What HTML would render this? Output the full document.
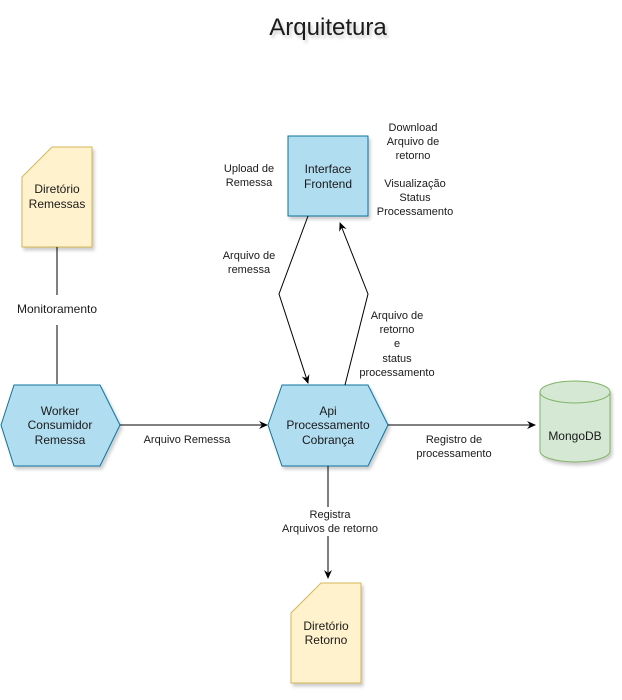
<!DOCTYPE html>
<html><head><meta charset="utf-8"><style>
body{margin:0;background:#fff}
svg text{font-family:"Liberation Sans",Arial,sans-serif;fill:#1a1a1a}
</style></head><body>
<svg width="622" height="695" viewBox="0 0 622 695" xmlns="http://www.w3.org/2000/svg">
<defs>
<marker id="a" markerWidth="10" markerHeight="10" refX="8" refY="5" orient="auto" markerUnits="userSpaceOnUse">
<path d="M0,1 L9,5 L0,9 L3,5 Z" fill="#000"/></marker>
<filter id="s" x="-20%" y="-20%" width="150%" height="150%"><feDropShadow dx="2" dy="3" stdDeviation="1.5" flood-color="#000" flood-opacity="0.2"/></filter>
</defs>
<text x="328" y="35" font-size="24" text-anchor="middle" filter="url(#s)">Arquitetura</text>

<!-- Diretorio Remessas -->
<path d="M52,147 L92,147 L92,247 L22,247 L22,177 Z" fill="#fff2cc" stroke="#d6b656" filter="url(#s)"/>
<text x="57" y="193" font-size="12" text-anchor="middle">Diretório</text>
<text x="57" y="208" font-size="12" text-anchor="middle">Remessas</text>
<line x1="57" y1="247" x2="57" y2="295" stroke="#000"/>
<text x="57" y="313" font-size="12" text-anchor="middle">Monitoramento</text>
<line x1="57" y1="325" x2="57" y2="384" stroke="#000"/>

<!-- Worker -->
<path d="M1,425 L14,385 L100,385 L120,425 L100,466 L14,466 Z" fill="#b1ddf0" stroke="#10739e" filter="url(#s)"/>
<text x="60" y="415" font-size="12" text-anchor="middle">Worker</text>
<text x="60" y="429" font-size="12" text-anchor="middle">Consumidor</text>
<text x="60" y="444" font-size="12" text-anchor="middle">Remessa</text>
<line x1="120" y1="425" x2="267" y2="425" stroke="#000" marker-end="url(#a)"/>
<text x="187" y="443" font-size="11" text-anchor="middle">Arquivo Remessa</text>

<!-- Api -->
<path d="M268,425 L282,385 L368,385 L388,425 L368,466 L282,466 Z" fill="#b1ddf0" stroke="#10739e" filter="url(#s)"/>
<text x="328" y="415" font-size="12" text-anchor="middle">Api</text>
<text x="328" y="429" font-size="12" text-anchor="middle">Processamento</text>
<text x="328" y="444" font-size="12" text-anchor="middle">Cobrança</text>

<!-- Frontend -->
<rect x="288" y="136" width="80" height="80" fill="#b1ddf0" stroke="#10739e" filter="url(#s)"/>
<text x="328" y="173" font-size="12" text-anchor="middle">Interface</text>
<text x="328" y="188" font-size="12" text-anchor="middle">Frontend</text>

<polyline points="308,216 279,294 308,383" fill="none" stroke="#000" marker-end="url(#a)"/>
<polyline points="345,385 368,294 340,223" fill="none" stroke="#000" marker-end="url(#a)"/>

<text x="249" y="172" font-size="11" text-anchor="middle">Upload de</text>
<text x="249" y="186" font-size="11" text-anchor="middle">Remessa</text>
<text x="413" y="131" font-size="11" text-anchor="middle">Download</text>
<text x="413" y="145" font-size="11" text-anchor="middle">Arquivo de</text>
<text x="413" y="159" font-size="11" text-anchor="middle">retorno</text>
<text x="415" y="187" font-size="11" text-anchor="middle">Visualização</text>
<text x="415" y="201" font-size="11" text-anchor="middle">Status</text>
<text x="415" y="215" font-size="11" text-anchor="middle">Processamento</text>
<text x="249" y="259" font-size="11" text-anchor="middle">Arquivo de</text>
<text x="249" y="273" font-size="11" text-anchor="middle">remessa</text>
<text x="397" y="319" font-size="11" text-anchor="middle">Arquivo de</text>
<text x="397" y="333" font-size="11" text-anchor="middle">retorno</text>
<text x="397" y="347" font-size="11" text-anchor="middle">e</text>
<text x="397" y="362" font-size="11" text-anchor="middle">status</text>
<text x="397" y="376" font-size="11" text-anchor="middle">processamento</text>

<!-- Mongo -->
<line x1="388" y1="425" x2="535" y2="425" stroke="#000" marker-end="url(#a)"/>
<text x="454" y="443" font-size="11" text-anchor="middle">Registro de</text>
<text x="454" y="457" font-size="11" text-anchor="middle">processamento</text>
<g filter="url(#s)">
<path d="M540,392 A35,11 0 0 1 610,392 L610,451 A35,11 0 0 1 540,451 Z" fill="#d5e8d4" stroke="#82b366"/>
<path d="M540,392 A35,11 0 0 0 610,392" fill="none" stroke="#82b366"/>
</g>
<text x="575" y="440" font-size="12" text-anchor="middle">MongoDB</text>

<!-- Retorno -->
<line x1="328" y1="466" x2="328" y2="578" stroke="#000" marker-end="url(#a)"/>
<rect x="280" y="507" width="100" height="29" fill="#fff"/>
<text x="330" y="518" font-size="11" text-anchor="middle">Registra</text>
<text x="330" y="532" font-size="11" text-anchor="middle">Arquivos de retorno</text>
<path d="M321,583 L361,583 L361,683 L291,683 L291,613 Z" fill="#fff2cc" stroke="#d6b656" filter="url(#s)"/>
<text x="326" y="630" font-size="12" text-anchor="middle">Diretório</text>
<text x="326" y="644" font-size="12" text-anchor="middle">Retorno</text>
</svg>
</body></html>
